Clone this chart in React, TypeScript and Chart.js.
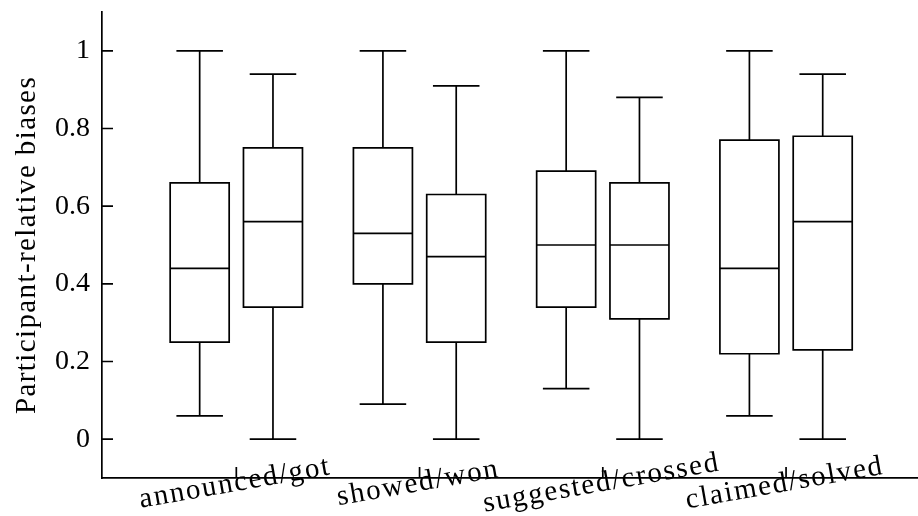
import React, { useEffect, useRef } from 'react';
import { Chart, registerables } from 'chart.js';

Chart.register(...registerables);

// ---------- data ----------
const categories = ['announced/got', 'showed/won', 'suggested/crossed', 'claimed/solved'];
const yTickValues = [0, 0.2, 0.4, 0.6, 0.8, 1];
const yTickLabels = ['0', '0.2', '0.4', '0.6', '0.8', '1'];
const yAxisTitle = 'Participant-relative biases';

// first (left) box of every pair
const leftMin = [0.06, 0.09, 0.13, 0.06];
const leftQ1 = [0.25, 0.4, 0.34, 0.22];
const leftMedian = [0.44, 0.53, 0.5, 0.44];
const leftQ3 = [0.66, 0.75, 0.69, 0.77];
const leftMax = [1, 1, 1, 1];

// second (right) box of every pair
const rightMin = [0, 0, 0, 0];
const rightQ1 = [0.34, 0.25, 0.31, 0.23];
const rightMedian = [0.56, 0.47, 0.5, 0.56];
const rightQ3 = [0.75, 0.63, 0.66, 0.78];
const rightMax = [0.94, 0.91, 0.88, 0.94];

// ---------- layout / style ----------
const PAIR_OFFSET = 0.2;
const BOX_HALF = 0.161;
const CAP_HALF = 0.127;
const LINE = 1.7;
const INK = '#000';
const FONT = '"Liberation Serif", "Times New Roman", serif';

const series = [
  { offset: -PAIR_OFFSET, min: leftMin, q1: leftQ1, med: leftMedian, q3: leftQ3, max: leftMax },
  { offset: PAIR_OFFSET, min: rightMin, q1: rightQ1, med: rightMedian, q3: rightQ3, max: rightMax },
];

const boxPlugin = {
  id: 'boxPlot',
  afterDatasetsDraw(chart: any) {
    const { ctx, chartArea } = chart;
    const x = chart.scales.x;
    const y = chart.scales.y;
    ctx.save();
    ctx.strokeStyle = INK;
    ctx.fillStyle = '#fff';
    ctx.lineWidth = LINE;
    ctx.lineCap = 'butt';
    series.forEach((s) => {
      categories.forEach((_, i) => {
        const c = i + 1 + s.offset;
        const xc = x.getPixelForValue(c);
        const xl = x.getPixelForValue(c - BOX_HALF);
        const xr = x.getPixelForValue(c + BOX_HALF);
        const cl = x.getPixelForValue(c - CAP_HALF);
        const cr = x.getPixelForValue(c + CAP_HALF);
        const pMin = y.getPixelForValue(s.min[i]);
        const pQ1 = y.getPixelForValue(s.q1[i]);
        const pMed = y.getPixelForValue(s.med[i]);
        const pQ3 = y.getPixelForValue(s.q3[i]);
        const pMax = y.getPixelForValue(s.max[i]);
        ctx.beginPath();
        ctx.moveTo(xc, pMin); ctx.lineTo(xc, pQ1);
        ctx.moveTo(xc, pQ3); ctx.lineTo(xc, pMax);
        ctx.moveTo(cl, pMin); ctx.lineTo(cr, pMin);
        ctx.moveTo(cl, pMax); ctx.lineTo(cr, pMax);
        ctx.stroke();
        ctx.beginPath();
        ctx.rect(xl, pQ3, xr - xl, pQ1 - pQ3);
        ctx.fill();
        ctx.stroke();
        ctx.beginPath();
        ctx.moveTo(xl, pMed); ctx.lineTo(xr, pMed);
        ctx.stroke();
      });
    });
    // inward tick marks
    ctx.beginPath();
    yTickValues.forEach((v) => {
      const py = y.getPixelForValue(v);
      ctx.moveTo(chartArea.left, py);
      ctx.lineTo(chartArea.left + 11, py);
    });
    categories.forEach((_, i) => {
      const px = x.getPixelForValue(i + 1);
      ctx.moveTo(px, chartArea.bottom);
      ctx.lineTo(px, chartArea.bottom - 11);
    });
    ctx.stroke();
    ctx.restore();
  },
  afterDraw(chart: any) {
    const { ctx, chartArea } = chart;
    const x = chart.scales.x;
    ctx.save();
    ctx.fillStyle = INK;
    ctx.font = `29px ${FONT}`;
    ctx.textAlign = 'center';
    ctx.textBaseline = 'alphabetic';
    // x category labels, slightly rotated
    (ctx as any).letterSpacing = '1.8px';
    categories.forEach((label, i) => {
      const px = x.getPixelForValue(i + 1);
      ctx.save();
      ctx.translate(px, chartArea.bottom + 13);
      ctx.rotate((-10 * Math.PI) / 180);
      ctx.fillText(label, 0, 0);
      ctx.restore();
    });
    // y axis title
    (ctx as any).letterSpacing = '1.4px';
    ctx.save();
    ctx.translate(35, (chartArea.top + chartArea.bottom) / 2);
    ctx.rotate(-Math.PI / 2);
    ctx.fillText(yAxisTitle, 0, 0);
    ctx.restore();
    ctx.restore();
  },
};

export default function App() {
  const canvasRef = useRef<HTMLCanvasElement | null>(null);

  useEffect(() => {
    if (!canvasRef.current) return;
    const chart = new Chart(canvasRef.current, {
      type: 'scatter',
      data: {
        datasets: series.map((s, k) => ({
          label: k === 0 ? 'first' : 'second',
          data: s.med.map((m, i) => ({ x: i + 1 + s.offset, y: m })),
          pointRadius: 0,
          pointHoverRadius: 0,
          showLine: false,
        })),
      },
      options: {
        animation: false,
        responsive: false,
        events: [],
        layout: { padding: { top: 12, left: 0, right: 0, bottom: 0 } },
        plugins: {
          legend: { display: false },
          tooltip: { enabled: false },
        },
        scales: {
          x: {
            type: 'linear',
            min: 0.267,
            max: 4.72,
            grid: { display: true, drawOnChartArea: false, drawTicks: false },
            border: { display: true, color: INK, width: LINE },
            ticks: { display: false },
            afterFit: (scale: any) => {
              scale.height = 38;
              scale.paddingLeft = 0;
              scale.paddingRight = 0;
            },
          },
          y: {
            type: 'linear',
            min: -0.1,
            max: 1.1,
            grid: { display: true, drawOnChartArea: false, drawTicks: false },
            border: { display: true, color: INK, width: LINE },
            afterBuildTicks: (scale: any) => {
              scale.ticks = yTickValues.map((v) => ({ value: v }));
            },
            ticks: {
              color: INK,
              padding: 12,
              font: { family: FONT, size: 28 },
              callback: (_v: any, idx: number) => yTickLabels[idx],
            },
            afterFit: (scale: any) => {
              scale.width = 102;
              scale.paddingTop = 0;
              scale.paddingBottom = 0;
            },
          },
        },
      },
      plugins: [boxPlugin],
    } as any);
    return () => chart.destroy();
  }, []);

  return (
    <div style={{ position: 'fixed', left: 0, top: 0, width: 918, height: 516, background: '#fff' }}>
      <canvas ref={canvasRef} width={918} height={516} style={{ display: 'block' }} />
    </div>
  );
}
